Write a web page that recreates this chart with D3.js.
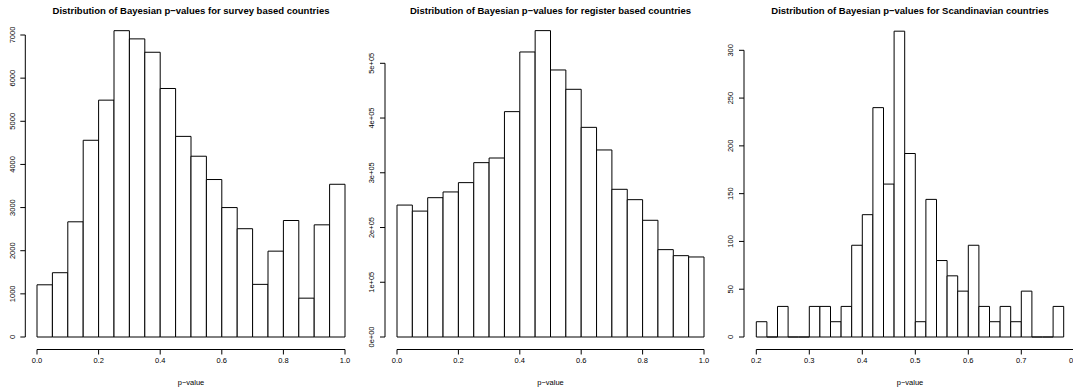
<!DOCTYPE html>
<html>
<head>
<meta charset="utf-8">
<script src="https://cdn.jsdelivr.net/npm/d3@7/dist/d3.min.js"></script>
<style>
  html, body { margin: 0; padding: 0; background: #fff; }
  svg { display: block; font-family: "Liberation Sans", Arial, Helvetica, sans-serif; -webkit-font-smoothing: antialiased; }
</style>
</head>
<body>
<svg id="chart" width="1073" height="389"></svg>
<script>
// ---------- data ----------
const surveyBreaks = [0.00,0.05,0.10,0.15,0.20,0.25,0.30,0.35,0.40,0.45,0.50,0.55,0.60,0.65,0.70,0.75,0.80,0.85,0.90,0.95,1.00];
const surveyCounts = [1210,1490,2670,4560,5490,7100,6910,6600,5760,4650,4190,3650,3000,2510,1220,1990,2700,900,2600,3540];

const registerBreaks = [0.00,0.05,0.10,0.15,0.20,0.25,0.30,0.35,0.40,0.45,0.50,0.55,0.60,0.65,0.70,0.75,0.80,0.85,0.90,0.95,1.00];
const registerCounts = [241000,230000,254500,265000,282000,318500,327000,411700,520700,559700,487800,452500,383000,341700,269800,250900,213200,159600,148600,146200];

const scandiBreaks = [0.20,0.22,0.24,0.26,0.28,0.30,0.32,0.34,0.36,0.38,0.40,0.42,0.44,0.46,0.48,0.50,0.52,0.54,0.56,0.58,0.60,0.62,0.64,0.66,0.68,0.70,0.72,0.74,0.76,0.78];
const scandiCounts = [16,0,32,0,0,32,32,16,32,96,128,240,160,320,192,16,144,80,64,48,96,32,16,32,16,48,0,0,32];

const surveyXTicks = [0.0,0.2,0.4,0.6,0.8,1.0];
const surveyYTicks = [0,1000,2000,3000,4000,5000,6000,7000];
const registerXTicks = [0.0,0.2,0.4,0.6,0.8,1.0];
const registerYTicks = [0,100000,200000,300000,400000,500000];
const scandiXTicks = [0.2,0.3,0.4,0.5,0.6,0.7,0.8];
const scandiYTicks = [0,50,100,150,200,250,300];

const titles = [
  "Distribution of Bayesian p\u2212values for survey based countries",
  "Distribution of Bayesian p\u2212values for register based countries",
  "Distribution of Bayesian p\u2212values for Scandinavian countries"
];
const xLabel = "p\u2212value";

// ---------- layout ----------
const fmtDec = d => d.toFixed(1);
const fmtInt = d => String(d);
const fmtSci = d => {
  if (d === 0) return "0e+00";
  const e = Math.floor(Math.log10(d));
  const m = Math.round(d / Math.pow(10, e));
  return m + "e+" + String(e).padStart(2, "0");
};

const panels = [
  { breaks: surveyBreaks, counts: surveyCounts, xt: surveyXTicks, yt: surveyYTicks,
    xd: [0, 1], xr: [37, 345], yd: [0, 7000], yr: [337, 35], axisX: 25.3,
    xf: fmtDec, yf: fmtInt, title: titles[0], cx: 191 },
  { breaks: registerBreaks, counts: registerCounts, xt: registerXTicks, yt: registerYTicks,
    xd: [0, 1], xr: [397, 704], yd: [0, 500000], yr: [337, 63.3], axisX: 385,
    xf: fmtDec, yf: fmtSci, title: titles[1], cx: 550.5 },
  { breaks: scandiBreaks, counts: scandiCounts, xt: scandiXTicks, yt: scandiYTicks,
    xd: [0.2, 0.8], xr: [756.3, 1074.3], yd: [0, 300], yr: [337, 50.3], axisX: 744,
    xf: fmtDec, yf: fmtInt, title: titles[2], cx: 910 }
];

const svg = d3.select("#chart");
const axisY = 349.5;
const tickFont = 7.5;
const titleFont = 9.5;

panels.forEach(p => {
  const x = d3.scaleLinear().domain(p.xd).range(p.xr);
  const y = d3.scaleLinear().domain(p.yd).range(p.yr);
  const g = svg.append("g");

  // bars
  g.selectAll("path.bar")
    .data(p.counts.map((c, i) => ({ x0: p.breaks[i], x1: p.breaks[i + 1], c })))
    .enter().append("path")
    .attr("class", "bar")
    .attr("d", d => {
      const X0 = x(d.x0), X1 = x(d.x1), Y0 = y(0), Y1 = y(d.c);
      return `M${X0},${Y0}V${Y1}H${X1}V${Y0}Z`;
    })
    .attr("fill", "#fff")
    .attr("stroke", "#000")
    .attr("stroke-width", 1);

  // x axis
  const xa = g.append("g");
  xa.append("line")
    .attr("x1", x(p.xt[0])).attr("x2", x(p.xt[p.xt.length - 1]))
    .attr("y1", axisY).attr("y2", axisY)
    .attr("stroke", "#000").attr("stroke-width", 1);
  xa.selectAll("line.t").data(p.xt).enter().append("line")
    .attr("x1", d => x(d)).attr("x2", d => x(d))
    .attr("y1", axisY).attr("y2", axisY + 5)
    .attr("stroke", "#000").attr("stroke-width", 1);
  xa.selectAll("text").data(p.xt).enter().append("text")
    .attr("x", d => x(d)).attr("y", 362.6)
    .attr("text-anchor", "middle")
    .attr("font-size", tickFont)
    .attr("fill", "#000")
    .text(d => p.xf(d));

  // y axis
  const ya = g.append("g");
  ya.append("line")
    .attr("x1", p.axisX).attr("x2", p.axisX)
    .attr("y1", y(p.yt[0])).attr("y2", y(p.yt[p.yt.length - 1]))
    .attr("stroke", "#000").attr("stroke-width", 1);
  ya.selectAll("line.t").data(p.yt).enter().append("line")
    .attr("x1", p.axisX - 5).attr("x2", p.axisX)
    .attr("y1", d => y(d)).attr("y2", d => y(d))
    .attr("stroke", "#000").attr("stroke-width", 1);
  ya.selectAll("text").data(p.yt).enter().append("text")
    .attr("transform", d => `translate(${p.axisX - 10.8},${y(d)}) rotate(-90)`)
    .attr("text-anchor", "middle")
    .attr("font-size", tickFont)
    .attr("fill", "#000")
    .text(d => p.yf(d));

  // title
  g.append("text")
    .attr("x", p.cx).attr("y", 14)
    .attr("text-anchor", "middle")
    .attr("font-size", titleFont)
    .attr("font-weight", "bold")
    .attr("fill", "#000")
    .text(p.title);

  // x label
  g.append("text")
    .attr("x", p.cx).attr("y", 384.6)
    .attr("text-anchor", "middle")
    .attr("font-size", tickFont)
    .attr("fill", "#000")
    .text(xLabel);
});
</script>
</body>
</html>
